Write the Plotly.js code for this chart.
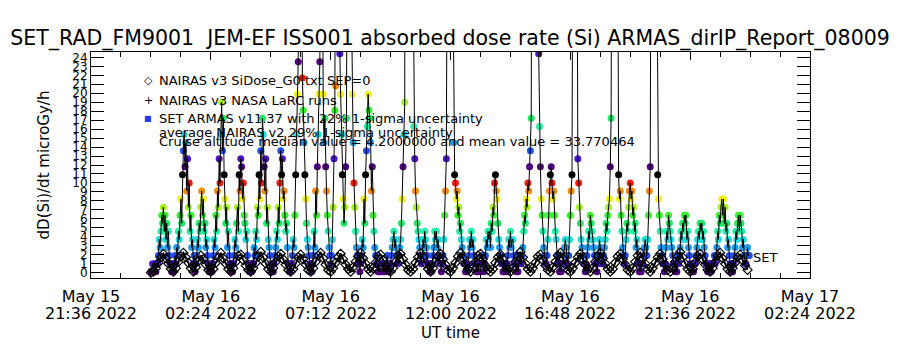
<!DOCTYPE html>
<html><head><meta charset="utf-8">
<script src="https://cdn.plot.ly/plotly-3.0.1.min.js"></script>
<style>html,body{margin:0;padding:0;background:#fff;}#chart{width:900px;height:350px;}</style>
</head><body><div id="chart"></div>
<script>
// ---------- data ----------
const xTickVals = ['2022-05-15 21:36','2022-05-16 02:24','2022-05-16 07:12','2022-05-16 12:00','2022-05-16 16:48','2022-05-16 21:36','2022-05-17 02:24'];
const xTickDate = ['May 15','May 16','May 16','May 16','May 16','May 16','May 17'];
const xTickTime = ['21:36 2022','02:24 2022','07:12 2022','12:00 2022','16:48 2022','21:36 2022','02:24 2022'];
const yTickVals = [0,1,2,3,4,5,6,7,8,9,10,11,12,13,14,15,16,17,18,19,20,21,22,23,24];

// SET ARMAS dose rate (microGy/h), one sample every 2 min from 2022-05-16 00:00 UT
const setStartUTC = '2022-05-16T00:00:00Z';
const setStepMin = 2;
const setDose = [
 0.1,0.1,1,0.1,0.1,1,0.1,1,1,1.9, 3.7,2.8,4.6,6.4,5.5,7.3,4.6,6.4,3.7,5.5, 2.8,4.6,1.9,1,1,0.1,1,0.1,1,1.9,
 1,2.8,1.9,4.6,3.7,6.4,8.2,5.5,10.9,13.6, 15.4,11.8,14.5,9.1,12.7,7.3,10,4.6,6.4,2.8, 3.7,1,1.9,0.1,1,1.9,3.7,2.8,5.5,4.6,
 7.3,9.1,6.4,8.2,4.6,5.5,2.8,3.7,1.9,1, 0.1,0.1,1,0.1,1,1.9,3.7,2.8,6.4,4.6, 9.1,7.3,12.7,10,15.4,19,13.6,17.2,10.9,8.2,
 5.5,7.3,2.8,4.6,1.9,1,0.1,1,0.1,1, 1.9,3.7,2.8,5.5,7.3,4.6,10.9,9.1,12.7,11.8, 8.2,10,6.4,5.5,3.7,4.6,1.9,1,1,0.1,
 1,0.1,1,1,2.8,1.9,4.6,3.7,7.3,6.4, 10.9,8.2,13.6,10,17.2,15.4,11.8,9.1,12.7,5.5, 7.3,3.7,2.8,1.9,1,0.1,1,0.1,1,1.9,
 2.8,4.6,3.7,7.3,5.5,10,13.6,10.9,12.7,8.2, 9.1,6.4,4.6,5.5,2.8,1,1,0.1,1,1, 1.9,3.7,2.8,6.4,10.9,15.4,19.9,23.5,58,112,
 96,41,21.7,18.1,14.5,10.9,8.2,5.5,3.7,2.8, 1.9,1,1,0.1,1,1.9,4.6,2.8,9.1,6.4, 11.8,15.4,19.9,23.5,47,63,38,19.9,14.5,17.2,
 11.8,9.1,6.4,4.6,2.8,1.9,1,1.9,3.7,7.3, 12.7,18.1,20.8,52,134,160,88,24.4,19.9,15.4, 10.9,8.2,5.5,7.3,11.8,17.2,44,97,128,75,
 51,30,19.9,14.5,10,7.3,4.6,2.8,1.9,1, 1,0.1,1,1.9,3.7,2.8,8.2,5.5,10.9,13.6, 16.3,19.9,18.1,17.2,14.5,9.1,11.8,6.4,4.6,2.8,
 1.9,1,1,0.1,1,0.1,0.1,1,1,0.1, 1,0.1,1,1,1.9,1,0.1,1,1,1.9, 2.8,3.7,4.6,2.8,3.7,1.9,1,1,1.9,2.8,
 3.7,5.5,8.2,11.8,15.4,19, 46,118,205,260,231,174,139,92,60,35, 16.3,12.7,9.1,7.3,5.5,4.6,3.7,2.8,1.9,1, 1.9,3.7,2.8,4.6,
 3.7,2.8,1.9,1,1,0.1,1,0.1,1,1.9, 2.8,4.6,3.7,4.6,2.8,3.7,1.9,1,1,0.1, 1,1.9,3.7,6.4,9.1,12.7,39,86,142,170,
 155,104,67,33,14.5,10.9,10,8.2,9.1,6.4, 7.3,4.6,5.5,3.7,2.8,1.9,1,1,0.1,1, 0.1,1,1.9,3.7,2.8,4.6,2.8,3.7,1.9,1,
 1,0.1,1,0.1,1,1,0.1,1,1.9,1, 0.1,1,1.9,3.7,2.8,4.6,3.7,4.6,2.8,5.5, 4.6,7.3,6.4,10,10.9,9.1,8.2,5.5,3.7,2.8,
 1.9,1,1,0.1,1,0.1,1,0.1,1,1.9, 3.7,2.8,4.6,2.8,3.7,3.7,1.9,1,1,0.1, 1,0.1,1,1,1.9,1,1.9,2.8,4.6,6.4,
 5.5,8.2,7.3,10,9.1,11.8,13.6,17.2, 54,121,236,310,284,197,118,49, 24.4,16.3,11.8,8.2,6.4,4.6,2.8,1.9,1,1, 1.9,3.7,6.4,9.1,
 10.9,11.8,10,8.2,9.1,6.4,4.6,3.7,1.9,1, 1,0.1,1,0.1,1,1,1.9,2.8,3.7,2.8, 1.9,1,1.9,3.7,6.4,9.1,10.9,42,113,187,
 166,97,45,12.7,10,7.3,5.5,3.7,2.8,1.9, 1,1,0.1,1,1.9,2.8,4.6,3.7,6.4,5.5, 4.6,3.7,2.8,1.9,1,1,0.1,1,1.9,3.7,
 2.8,1.9,1,1,1.9,2.8,3.7,5.5,4.6,6.4, 7.3,8.2,11.8,17.2, 48,132,245,298,256,171,94,39, 10.9,8.2,9.1,6.4,4.6,2.8,1.9,1,
 1.9,3.7,5.5,4.6,7.3,9.1,10,8.2,9.1,6.4, 7.3,4.6,5.5,2.8,3.7,1,1,0.1,1,0.1, 1,1,1.9,2.8,3.7,2.8,1.9,3.7,6.4,9.1,
 11.8, 44,108,189,236,205,141,80,36, 10.9,8.2,6.4,4.6,2.8,1.9,1,1,0.1,1,2.8,4.6,3.7,6.4,5.5,4.6,3.7,2.8,1.9,1,1,
 0.1,1,0.1,1,1,1.9,2.8,4.6,3.7,5.5, 4.6,6.4,5.5,6.4,3.7,4.6,2.8,1.9,1,1, 0.1,1,0.1,1,1,1.9,2.8,3.7,4.6,3.7,
 5.5,4.6,5.5,3.7,4.6,2.8,1.9,1,1,0.1, 1,0.1,1,0.1,1,1,1,1.9,1,1.9, 2.8,4.6,3.7,6.4,5.5,7.3,8.2,6.4,8.2,5.5,
 7.3,4.6,5.5,2.8,3.7,1.9,1,0.1,1,0.1, 1,1.9,2.8,4.6,3.7,5.5,6.4,4.6,6.4,5.5, 4.6,2.8,3.7,1.9,1,1,1.9,2.8,1.9,1.9
];

// NAIRAS v3 SiDose_G0.txt (SEP=0), one sample every 6 min from 2022-05-16 00:00 UT
const nairasStartUTC = '2022-05-16T00:00:00Z';
const nairasStepMin = 6;
const nairasDose = [
 0,0.1,0.5,1.1,1.7,2.1,1.6,1.0,0.4, 0.1,0.5,1.2,1.8,2.2,1.7,1.1,0.5, 0.1,0.6,1.3,
 1.9,1.5,0.9,0.3, 0.1,0.4,1.1,1.7,2.2,1.6,1.0,0.4, 0.1,0.5,1.2,1.9,2.0,1.4,0.8,0.3,
 0.1,0.5,1.1,1.8,2.3,1.7,1.0,0.4, 0.1,0.5,1.2,1.8,2.1,1.5,0.9,0.3, 0.1,0.4,1.0,1.7,
 2.0,1.5,0.9,0.3, 0.1,0.5,1.2,1.9,2.2,1.6,0.9,0.3, 0.1,0.5,1.1,1.7,2.1,1.5,0.9,0.4,
 0.1,0.6,1.2,1.8,2.2,1.6,1.0,0.4, 0.1,0.5,1.1,1.8,2.0,1.4,0.8,0.3, 0.1,0.5,1.2,1.9,
 2.1,1.5,0.9,0.3, 0.1,0.4,1.1,1.7,2.2,1.7,1.0,0.4, 0.1,0.5,1.2,1.8,2.1,1.5,0.9,0.3,
 0.1,0.5,1.1,1.8,2.2,1.6,1.0,0.4, 0.1,0.5,1.2,1.9,2.1,1.5,0.8,0.3, 0.1,0.4,1.1,1.7,
 2.0,1.5,0.9,0.3, 0.1,0.5,1.2,1.8,2.3,1.7,1.0,0.4, 0.1,0.5,1.1,1.8,2.0,1.4,0.8,0.3,
 0.1,0.6,1.2,1.9,2.2,1.6,0.9,0.3, 0.1,0.5,1.1,1.7,2.1,1.5,0.9,0.4, 0.1,0.5,1.2,1.8,
 2.2,1.6,1.0,0.4, 0.1,0.4,1.1,1.8,2.1,1.5,0.9,0.3, 0.1,0.5,1.2,1.9,2.2,1.6,1.0,0.4,
 0.1,0.5,1.1,1.7,2.1,1.5,0.9,0.3, 0.1,0.5,1.2,1.8,2.3,1.7,1.0,0.4, 0.1,0.4,1.1,1.8,
 2.1,1.5,0.9,0.3, 0.1,0.5,1.2,1.9,2.2,1.6,1.0,0.4, 0.1,0.5,1.1,1.7,2.0,1.4,0.8,0.3
];

// NAIRAS v3 NASA LaRC runs
const larcTime = ['2022-05-16 06:00'];
const larcDose = [1.7];

// ---------- styling helpers ----------
const levelColors = ['#50007e','#4a14c8','#2250f0','#1e9cf0','#22dcdc','#22f0aa','#22e86a','#38f030','#a8f020','#f0f018','#f08c10','#f01c0c','#000000'];
function doseColor(v){ const k = Math.max(0, Math.round((v-0.1)/0.9)); return levelColors[k % 13]; }
function stamp(ms){ const d = new Date(ms); const p = n => String(n).padStart(2,'0');
  return d.getUTCFullYear()+'-'+p(d.getUTCMonth()+1)+'-'+p(d.getUTCDate())+' '+p(d.getUTCHours())+':'+p(d.getUTCMinutes())+':'+p(d.getUTCSeconds()); }
function timeBase(startISO, stepMin, n){ const t0 = Date.parse(startISO); const out=[]; for(let i=0;i<n;i++) out.push(stamp(t0+i*stepMin*60000)); return out; }

const setTime = timeBase(setStartUTC, setStepMin, setDose.length);
const nairasTime = timeBase(nairasStartUTC, nairasStepMin, nairasDose.length);

const FONT = 'DejaVu Sans, Verdana, sans-serif';
const L = 91, R = 810, T = 52, B = 278;
const px = x => (x - L) / (R - L);
const py = y => (B - y) / (B - T);

const traces = [
  { x: setTime, y: setDose, type:'scatter', mode:'markers', name:'SET',
    marker:{ size:7, symbol:'circle', color: setDose.map(doseColor), line:{width:0} }, hoverinfo:'skip', showlegend:false },
  { x: nairasTime, y: nairasDose, type:'scatter', mode:'lines+markers', name:'NAIRAS',
    line:{ color:'#000', width:2 },
    marker:{ size:7, symbol:'diamond-open', color:'#000', line:{width:1.2, color:'#000'} }, hoverinfo:'skip', showlegend:false },
  { x: setTime, y: setDose, type:'scatter', mode:'lines', name:'SET line',
    line:{ color:'#000', width:1 }, hoverinfo:'skip', showlegend:false },
  { x: larcTime, y: larcDose, type:'scatter', mode:'markers', name:'LaRC',
    marker:{ size:8, symbol:'line-ew-open', color:'#000', line:{width:1,color:'#000'} }, hoverinfo:'skip', showlegend:false }
];

const annotations = [];
xTickVals.forEach((v,i)=>{
  annotations.push({ x: v, xref:'x', y: py(313), yref:'paper', text: xTickTime[i], showarrow:false,
    xanchor:'center', yanchor:'middle', font:{family:FONT, size:16, color:'#000'} });
});
const legendText = [
  ['◇', 'NAIRAS v3 SiDose_G0.txt SEP=0', 80, '#000'],
  ['+', 'NAIRAS v3 NASA LaRC runs', 100, '#000'],
  ['■', 'SET ARMAS v11.37 with 22% 1-sigma uncertainty', 118, '#1e3cf0']
];
legendText.forEach(r=>{
  annotations.push({ x: px(148), xref:'paper', y: py(r[2]), yref:'paper', text: r[0], showarrow:false,
    xanchor:'center', yanchor:'middle', font:{family:FONT, size: r[0]==='■'?8:11, color:r[3]} });
  annotations.push({ x: px(157), xref:'paper', y: py(r[2]), yref:'paper', text: r[1], showarrow:false,
    xanchor:'left', yanchor:'middle', font:{family:FONT, size:13, color:'#000'} });
});
annotations.push({ x: px(157), xref:'paper', y: py(132), yref:'paper', text:'average NAIRAS v2 29% 1-sigma uncertainty', showarrow:false,
  xanchor:'left', yanchor:'middle', font:{family:FONT, size:13, color:'#000'} });
annotations.push({ x: px(157), xref:'paper', y: py(141), yref:'paper', text:'Cruise altitude median value = 4.2000000 and mean value = 33.770464', showarrow:false,
  xanchor:'left', yanchor:'middle', font:{family:FONT, size:13, color:'#000'} });
annotations.push({ x: px(751), xref:'paper', y: py(257), yref:'paper', text:'SET', showarrow:false,
  xanchor:'left', yanchor:'middle', font:{family:FONT, size:13, color:'#000'} });

const layout = {
  width: 900, height: 350,
  margin: { l: L, r: 900 - R, t: T, b: 350 - B, pad: 0 },
  paper_bgcolor:'#fff', plot_bgcolor:'#fff',
  font: { family: FONT, color:'#000' },
  showlegend: false,
  title: { text:'SET_RAD_FM9001  JEM-EF ISS001 absorbed dose rate (Si) ARMAS_dirIP_Report_08009',
    x: 0.5, xref:'container', xanchor:'center', y: 1 - 38/350, yref:'container', yanchor:'middle',
    font:{ family: FONT, size: 20.5, color:'#000' } },
  xaxis: {
    type:'date', range:['2022-05-15 21:36','2022-05-17 02:24'],
    tickmode:'array', tickvals: xTickVals, ticktext: xTickDate,
    ticks:'inside', ticklen:8, tickwidth:1, tickcolor:'#000', ticklabelstandoff: 4,
    minor:{ tickmode:'linear', tick0:'2022-05-15 21:36', dtick: 4320000, ticks:'inside', ticklen:5, tickcolor:'#000', showgrid:false },
    showline:true, linecolor:'#000', linewidth:1, mirror:'allticks',
    showgrid:false, zeroline:false,
    tickfont:{ family: FONT, size:16, color:'#000' },
    title:{ text:'UT time', font:{ family: FONT, size:15, color:'#000' }, standoff: 22 }
  },
  yaxis: {
    range:[-0.6, 24.6], tickmode:'array', tickvals: yTickVals,
    ticks:'inside', ticklen:13, tickwidth:1, tickcolor:'#000',
    showline:true, linecolor:'#000', linewidth:1, mirror:'allticks',
    showgrid:false, zeroline:false,
    tickfont:{ family: FONT, size:12, color:'#000' },
    title:{ text:'dD(Si)/dt microGy/h', font:{ family: FONT, size:15, color:'#000' }, standoff: 19 }
  },
  annotations: annotations
};

Plotly.newPlot('chart', traces, layout, { staticPlot: true, displayModeBar: false });
</script>
</body></html>
